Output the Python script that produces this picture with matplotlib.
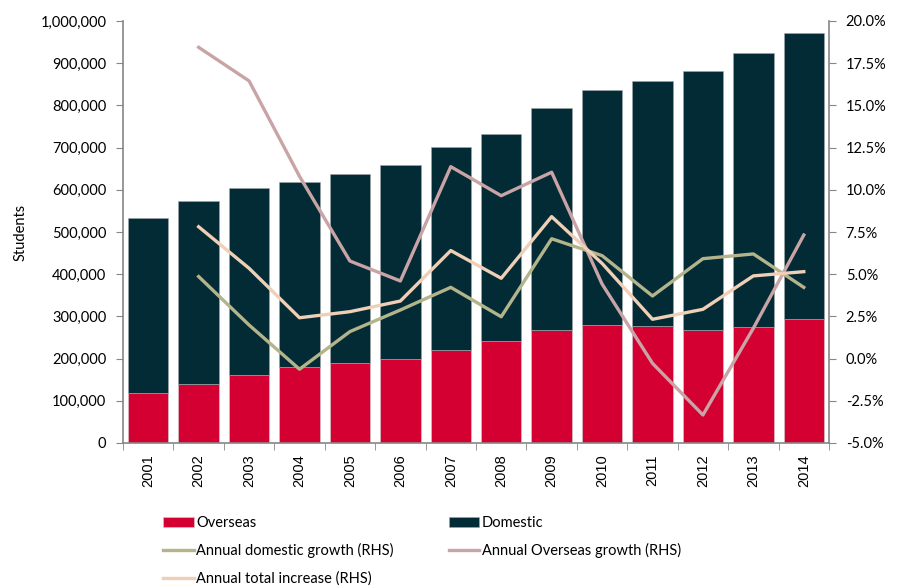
import matplotlib
matplotlib.use("Agg")
import matplotlib.pyplot as plt
import numpy as np
from matplotlib.ticker import FuncFormatter, MultipleLocator, FixedLocator

plt.rcParams['font.family'] = ['Lato', 'DejaVu Sans']

years = ['2001', '2002', '2003', '2004', '2005', '2006', '2007', '2008',
         '2009', '2010', '2011', '2012', '2013', '2014']
overseas = [117700, 139000, 161000, 179000, 189000, 198000, 220000, 241000,
            267000, 279000, 278000, 268000, 274000, 293000]
total = [532000, 574000, 605000, 619000, 637000, 659000, 701000, 733000,
         794000, 837000, 858000, 881000, 925000, 972000]
domestic = [t - o for t, o in zip(total, overseas)]

dom_growth = [None, 4.86, 1.99, -0.63, 1.6, 2.88, 4.22, 2.48, 7.1, 6.1, 3.71, 5.92, 6.2, 4.22]
ovs_growth = [None, 18.44, 16.45, 10.8, 5.78, 4.6, 11.37, 9.65, 11.04, 4.42, -0.28, -3.34, 1.8, 7.32]
tot_growth = [None, 7.81, 5.35, 2.42, 2.78, 3.41, 6.4, 4.76, 8.41, 5.64, 2.33, 2.92, 4.9, 5.15]

c_ovs = '#D40032'
c_dom = '#032B35'
c_domg = '#B3B48C'
c_ovsg = '#C9A4A6'
c_totg = '#EFCFB6'
gray = '#868686'

fig = plt.figure(figsize=(8.99, 5.86), dpi=100)
ax = fig.add_axes([123/899, 1 - 443/586, (829-123)/899, (443-21)/586])
x = np.arange(len(years))
ax.bar(x, overseas, width=0.8, color=c_ovs, edgecolor='#d0d0d0', linewidth=0.4, label='Overseas', zorder=2)
ax.bar(x, domestic, width=0.8, bottom=overseas, color=c_dom, edgecolor='#a0a8aa', linewidth=0.4, label='Domestic', zorder=2)
ax.set_xlim(-0.5, len(years) - 0.5)
ax.set_ylim(0, 1000000)
ax.yaxis.set_major_locator(MultipleLocator(100000))
ax.yaxis.set_major_formatter(FuncFormatter(lambda v, p: f'{int(v):,}'))
ax.set_xticks(x)
ax.set_xticklabels(years, rotation=90, fontsize=10.5, family=['Liberation Sans', 'DejaVu Sans'])
ax.xaxis.set_minor_locator(FixedLocator(np.arange(-0.5, len(years), 1.0)))
ax.tick_params(axis='x', which='major', length=0, pad=8)
ax.tick_params(axis='x', which='minor', length=5, color=gray, direction='out')
ax.tick_params(axis='y', length=5, color=gray, labelsize=10.5, direction='out', pad=7)
ax.set_ylabel('Students', fontsize=10.5, labelpad=9)
for s in ['top', 'right']:
    ax.spines[s].set_visible(False)
for s in ['left', 'bottom']:
    ax.spines[s].set_color(gray)
    ax.spines[s].set_linewidth(1.2)

ax2 = ax.twinx()
xl = x[1:]
l1, = ax2.plot(xl, dom_growth[1:], color=c_domg, lw=2.4, label='Annual domestic growth (RHS)', zorder=3)
l2, = ax2.plot(xl, ovs_growth[1:], color=c_ovsg, lw=2.4, label='Annual Overseas growth (RHS)', zorder=3)
l3, = ax2.plot(xl, tot_growth[1:], color=c_totg, lw=2.4, label='Annual total increase (RHS)', zorder=3)
ax2.set_ylim(-5, 20)
ax2.yaxis.set_major_locator(MultipleLocator(2.5))
ax2.yaxis.set_major_formatter(FuncFormatter(lambda v, p: f'{v:.1f}%'))
ax2.tick_params(axis='y', length=5, color=gray, labelsize=10.5, direction='out', pad=7)
for s in ['top', 'left', 'bottom']:
    ax2.spines[s].set_visible(False)
ax2.spines['right'].set_color(gray)
ax2.spines['right'].set_linewidth(1.2)

h, lab = ax.get_legend_handles_labels()
handles = [h[0], l1, l3, h[1], l2]
labels = ['Overseas', l1.get_label(), l3.get_label(), 'Domestic', l2.get_label()]
fig.legend(handles, labels, ncol=2, loc='upper left', bbox_to_anchor=(150/899, 1 - 503/586),
           frameon=False, fontsize=10.5, handlelength=2.1, handletextpad=0.15,
           columnspacing=3.8, labelspacing=0.9)

fig.savefig('out.png', dpi=100)
